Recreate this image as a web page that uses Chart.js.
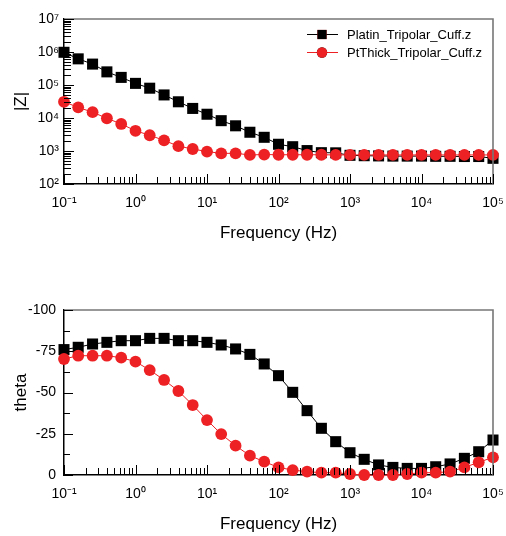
<!DOCTYPE html>
<html>
<head>
<meta charset="utf-8">
<script src="https://cdn.jsdelivr.net/npm/chart.js@4.4.0/dist/chart.umd.min.js"></script>
<style>
html, body { margin: 0; padding: 0; background: #fff; }
#wrap { position: relative; width: 506px; height: 536px; }
canvas { position: absolute; left: 0; }
</style>
</head>
<body>
<div id="wrap">
	<canvas id="zChart" width="506" height="268" style="top:0px"></canvas>
	<canvas id="thetaChart" width="506" height="268" style="top:268px"></canvas>
</div>
<script>
// frequencies (Hz), 5 points per decade
var freq = [0.1, 0.158, 0.251, 0.398, 0.631, 1, 1.58, 2.51, 3.98, 6.31,
	10, 15.8, 25.1, 39.8, 63.1, 100, 158, 251, 398, 631,
	1000, 1580, 2510, 3980, 6310, 10000, 15800, 25100, 39800, 63100, 100000];

var zPlatin = [980000, 620000, 430000, 250000, 170000, 112000, 80000, 50000, 31000, 19500,
	13000, 8300, 5800, 3700, 2600, 1600, 1350, 1030, 890, 880,
	740, 720, 710, 700, 700, 700, 690, 690, 680, 680, 600];
var zPtThick = [31000, 21000, 15000, 9800, 6600, 4100, 3000, 2100, 1400, 1150,
	960, 850, 850, 760, 780, 770, 770, 770, 770, 760,
	760, 760, 760, 760, 760, 760, 760, 760, 760, 760, 760];

var thetaPlatin = [-76, -77.4, -79.4, -80.4, -81.4, -81.4, -82.8, -82.8, -81.4, -81.4,
	-80.4, -78.8, -76.4, -73.1, -67.3, -60.2, -50.1, -39, -28.3, -20.2,
	-13.5, -9.5, -6.1, -4.6, -4, -4, -5, -6.7, -10.1, -14.1, -21.2];
var thetaPtThick = [-70.3, -72.3, -72.3, -72.3, -71.1, -68.7, -63.6, -57.6, -50.9, -42.4,
	-33.3, -24.8, -17.8, -11.7, -8.1, -4.6, -3, -2, -1.4, -1.4,
	-0.6, 0, 0, 0, -0.6, -1.4, -1.4, -2, -4.6, -7.7, -10.7];

var seriesNames = ["Platin_Tripolar_Cuff.z", "PtThick_Tripolar_Cuff.z"];
var freqDecades = [0.1, 1, 10, 100, 1000, 10000, 100000];
var zDecades = [100, 1000, 10000, 100000, 1000000, 10000000];
var thetaTicks = [0, -25, -50, -75, -100];
var thetaMinor = [-12.5, -37.5, -62.5, -87.5];

var FONT = "'Liberation Sans', Arial, sans-serif";
var RED = "rgb(237,32,36)";
var sup = {"-": "\u207B", "0": "\u2070", "1": "\u00B9", "2": "\u00B2", "3": "\u00B3",
	"4": "\u2074", "5": "\u2075", "6": "\u2076", "7": "\u2077", "8": "\u2078", "9": "\u2079"};

function powLabel(v) {
	var e = String(Math.round(Math.log10(v)));
	var s = "10";
	for (var i = 0; i < e.length; i++) s += sup[e[i]];
	return s;
}

function points(ys) {
	var out = [];
	for (var i = 0; i < freq.length; i++) out.push({x: freq[i], y: ys[i]});
	return out;
}

function datasets(black, red) {
	return [
		{
			label: seriesNames[0],
			data: points(black),
			borderColor: "#000",
			backgroundColor: "#000",
			borderWidth: 1,
			pointStyle: "rect",
			pointRadius: 7.8,
			pointBorderWidth: 0,
			clip: false,
			order: 1
		},
		{
			label: seriesNames[1],
			data: points(red),
			borderColor: RED,
			backgroundColor: RED,
			borderWidth: 1,
			pointStyle: "circle",
			pointRadius: 5.9,
			pointBorderWidth: 0,
			clip: false,
			order: 0
		}
	];
}

// inward tick marks and the gray frame
function frameTicks(yLog) {
	return {
		id: "frameTicks",
		afterDraw: function(chart) {
			var ctx = chart.ctx, a = chart.chartArea;
			var xs = chart.scales.x, ys = chart.scales.y;
			ctx.save();
			ctx.strokeStyle = "#777";
			ctx.lineWidth = 1.6;
			ctx.beginPath();
			ctx.moveTo(a.left, a.top);
			ctx.lineTo(a.right, a.top);
			ctx.lineTo(a.right, a.bottom);
			ctx.stroke();

			ctx.strokeStyle = "#000";
			ctx.lineWidth = 1;
			ctx.beginPath();
			for (var d = 0; d < freqDecades.length; d++) {
				for (var m = 1; m <= 9; m++) {
					if (d == freqDecades.length - 1 && m > 1) break;
					var px = Math.round(xs.getPixelForValue(freqDecades[d] * m)) + 0.5;
					var len = m == 1 ? 10 : 7;
					ctx.moveTo(px, a.bottom);
					ctx.lineTo(px, a.bottom - len);
				}
			}
			if (yLog) {
				for (var d = 0; d < zDecades.length; d++) {
					for (var m = 1; m <= 9; m++) {
						if (d == zDecades.length - 1 && m > 1) break;
						var py = Math.round(ys.getPixelForValue(zDecades[d] * m)) + 0.5;
						var len = m == 1 ? 10 : 7;
						ctx.moveTo(a.left, py);
						ctx.lineTo(a.left + len, py);
					}
				}
			} else {
				for (var i = 0; i < thetaTicks.length; i++) {
					var py = Math.round(ys.getPixelForValue(thetaTicks[i])) + 0.5;
					ctx.moveTo(a.left, py);
					ctx.lineTo(a.left + 9, py);
				}
				for (var i = 0; i < thetaMinor.length; i++) {
					var py = Math.round(ys.getPixelForValue(thetaMinor[i])) + 0.5;
					ctx.moveTo(a.left, py);
					ctx.lineTo(a.left + 6, py);
				}
			}
			ctx.stroke();
			ctx.restore();
		}
	};
}

var legendInside = {
	id: "legendInside",
	afterDraw: function(chart) {
		var ctx = chart.ctx;
		var rows = [34, 52];
		ctx.save();
		chart.data.datasets.forEach(function(ds, i) {
			var y = rows[i];
			ctx.strokeStyle = ds.borderColor;
			ctx.lineWidth = 1;
			ctx.beginPath();
			ctx.moveTo(307, y + 0.5);
			ctx.lineTo(338, y + 0.5);
			ctx.stroke();
			Chart.helpers.drawPoint(ctx, {
				pointStyle: ds.pointStyle,
				radius: ds.pointStyle == "rect" ? 6.5 : 5.2,
				rotation: 0,
				borderWidth: 0
			}, 322, y + 0.5);
			ctx.fillStyle = ds.backgroundColor;
			ctx.fill();
			ctx.fillStyle = "#000";
			ctx.font = "13px " + FONT;
			ctx.textAlign = "left";
			ctx.textBaseline = "middle";
			ctx.fillText(ds.label, 347, y + 1);
		});
		ctx.restore();
	}
};

function xAxis(height, titlePad) {
	return {
		type: "logarithmic",
		min: 0.1,
		max: 100000,
		afterBuildTicks: function(s) { s.ticks = freqDecades.map(function(v) { return {value: v}; }); },
		afterFit: function(s) {
			s.height = height;
			s.paddingLeft = 0;
			s.paddingRight = 0;
		},
		grid: { display: true, drawOnChartArea: false, drawTicks: false },
		border: { display: true, color: "#000", width: 1.5 },
		ticks: {
			autoSkip: false,
			maxRotation: 0,
			padding: 11,
			color: "#000",
			font: { family: FONT, size: 14 },
			callback: function(v) { return powLabel(v); }
		},
		title: {
			display: true,
			text: "Frequency (Hz)",
			color: "#000",
			font: { family: FONT, size: 17 },
			padding: { top: 0, bottom: titlePad }
		}
	};
}

function yTitle(text) {
	return {
		display: true,
		text: text,
		color: "#000",
		font: { family: FONT, size: 17 },
		padding: { top: 11, bottom: 0 }
	};
}

new Chart(document.getElementById("zChart"), {
	type: "line",
	data: { datasets: datasets(zPlatin, zPtThick) },
	options: {
		responsive: false,
		animation: false,
		devicePixelRatio: 1,
		layout: { padding: { top: 19, right: 13, left: 0, bottom: 0 } },
		plugins: { legend: { display: false }, tooltip: { enabled: false } },
		scales: {
			x: xAxis(84, 24),
			y: {
				type: "logarithmic",
				min: 100,
				max: 10000000,
				afterBuildTicks: function(s) { s.ticks = zDecades.map(function(v) { return {value: v}; }); },
				afterFit: function(s) { s.width = 64; s.paddingTop = 0; s.paddingBottom = 0; },
				grid: { display: true, drawOnChartArea: false, drawTicks: false },
				border: { display: true, color: "#000", width: 1.5 },
				ticks: {
					autoSkip: false,
					padding: 5,
					color: "#000",
					font: { family: FONT, size: 14 },
					callback: function(v) { return powLabel(v); }
				},
				title: yTitle("|Z|")
			}
		}
	},
	plugins: [frameTicks(true), legendInside]
});

new Chart(document.getElementById("thetaChart"), {
	type: "line",
	data: { datasets: datasets(thetaPlatin, thetaPtThick) },
	options: {
		responsive: false,
		animation: false,
		devicePixelRatio: 1,
		layout: { padding: { top: 42, right: 13, left: 0, bottom: 0 } },
		plugins: { legend: { display: false }, tooltip: { enabled: false } },
		scales: {
			x: xAxis(61, 1),
			y: {
				type: "linear",
				min: -100,
				max: 0,
				reverse: true,
				afterBuildTicks: function(s) { s.ticks = thetaTicks.map(function(v) { return {value: v}; }); },
				afterFit: function(s) { s.width = 64; s.paddingTop = 0; s.paddingBottom = 0; },
				grid: { display: true, drawOnChartArea: false, drawTicks: false },
				border: { display: true, color: "#000", width: 1.5 },
				ticks: {
					autoSkip: false,
					padding: 8,
					color: "#000",
					font: { family: FONT, size: 14 },
					callback: function(v) { return String(v); }
				},
				title: yTitle("theta")
			}
		}
	},
	plugins: [frameTicks(false)]
});
</script>
</body>
</html>
